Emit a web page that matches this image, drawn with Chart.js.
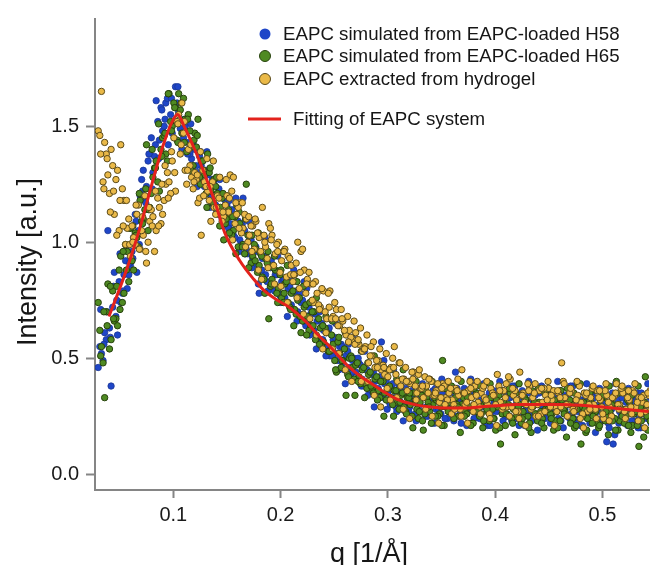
<!DOCTYPE html>
<html>
<head>
<meta charset="utf-8">
<script src="https://cdn.jsdelivr.net/npm/chart.js@4/dist/chart.umd.min.js"></script>
<style>
html,body{margin:0;padding:0;background:#fff;overflow:hidden;}
canvas{display:block;}
</style>
</head>
<body>
<canvas id="c" width="654" height="575"></canvas>
<script>
// ---- data ----
const qGrid = [
0.030,0.033,0.036,0.039,0.042,0.045,0.048,0.051,0.054,0.057,
0.060,0.063,0.066,0.069,0.072,0.075,0.078,0.081,0.084,0.087,
0.090,0.093,0.096,0.099,0.102,0.105,0.108,0.111,0.114,0.117,
0.120,0.123,0.126,0.129,0.132,0.135,0.138,0.141,0.144,0.147,
0.150,0.153,0.156,0.159,0.162,0.165,0.168,0.171,0.174,0.177,
0.180,0.183,0.186,0.189,0.192,0.195,0.198,0.201,0.204,0.207,
0.210,0.213,0.216,0.219,0.222,0.225,0.228,0.231,0.234,0.237,
0.240,0.243,0.246,0.249,0.252,0.255,0.258,0.261,0.264,0.267,
0.270,0.273,0.276,0.279,0.282,0.285,0.288,0.291,0.294,0.297,
0.300,0.303,0.306,0.309,0.312,0.315,0.318,0.321,0.324,0.327,
0.330,0.333,0.336,0.339,0.342,0.345,0.348,0.351,0.354,0.357,
0.360,0.363,0.366,0.369,0.372,0.375,0.378,0.381,0.384,0.387,
0.390,0.393,0.396,0.399,0.402,0.405,0.408,0.411,0.414,0.417,
0.420,0.423,0.426,0.429,0.432,0.435,0.438,0.441,0.444,0.447,
0.450,0.453,0.456,0.459,0.462,0.465,0.468,0.471,0.474,0.477,
0.480,0.483,0.486,0.489,0.492,0.495,0.498,0.501,0.504,0.507,
0.510,0.513,0.516,0.519,0.522,0.525,0.528,0.531,0.534,0.537,
0.540,0.543];

const qGrid2 = [
0.0315,0.0345,0.0375,0.0405,0.0435,0.0465,0.0495,0.0525,0.0555,0.0585,
0.0615,0.0645,0.0675,0.0705,0.0735,0.0765,0.0795,0.0825,0.0855,0.0885,
0.0915,0.0945,0.0975,0.1005,0.1035,0.1065,0.1095,0.1125,0.1155,0.1185,
0.1215,0.1245,0.1275,0.1305,0.1335,0.1365,0.1395,0.1425,0.1455,0.1485,
0.1515,0.1545,0.1575,0.1605,0.1635,0.1665,0.1695,0.1725,0.1755,0.1785,
0.1815,0.1845,0.1875,0.1905,0.1935,0.1965,0.1995,0.2025,0.2055,0.2085,
0.2115,0.2145,0.2175,0.2205,0.2235,0.2265,0.2295,0.2325,0.2355,0.2385,
0.2415,0.2445,0.2475,0.2505,0.2535,0.2565,0.2595,0.2625,0.2655,0.2685,
0.2715,0.2745,0.2775,0.2805,0.2835,0.2865,0.2895,0.2925,0.2955,0.2985,
0.3015,0.3045,0.3075,0.3105,0.3135,0.3165,0.3195,0.3225,0.3255,0.3285,
0.3315,0.3345,0.3375,0.3405,0.3435,0.3465,0.3495,0.3525,0.3555,0.3585,
0.3615,0.3645,0.3675,0.3705,0.3735,0.3765,0.3795,0.3825,0.3855,0.3885,
0.3915,0.3945,0.3975,0.4005,0.4035,0.4065,0.4095,0.4125,0.4155,0.4185,
0.4215,0.4245,0.4275,0.4305,0.4335,0.4365,0.4395,0.4425,0.4455,0.4485,
0.4515,0.4545,0.4575,0.4605,0.4635,0.4665,0.4695,0.4725,0.4755,0.4785,
0.4815,0.4845,0.4875,0.4905,0.4935,0.4965,0.4995,0.5025,0.5055,0.5085,
0.5115,0.5145,0.5175,0.5205,0.5235,0.5265,0.5295,0.5325,0.5355,0.5385,
0.5415,0.5445];

const qGrid3 = [
0.0323,0.0353,0.0383,0.0413,0.0443,0.0473,0.0503,0.0533,0.0563,0.0593,
0.0623,0.0653,0.0683,0.0713,0.0743,0.0773,0.0803,0.0833,0.0863,0.0893,
0.0923,0.0953,0.0983,0.1013,0.1043,0.1073,0.1103,0.1133,0.1163,0.1193,
0.1223,0.1253,0.1283,0.1313,0.1343,0.1373,0.1403,0.1433,0.1463,0.1493,
0.1523,0.1553,0.1583,0.1613,0.1643,0.1673,0.1703,0.1733,0.1763,0.1793,
0.1823,0.1853,0.1883,0.1913,0.1943,0.1973,0.2003,0.2033,0.2063,0.2093,
0.2123,0.2153,0.2183,0.2213,0.2243,0.2273,0.2303,0.2333,0.2363,0.2393,
0.2423,0.2453,0.2483,0.2513,0.2543,0.2573,0.2603,0.2633,0.2663,0.2693,
0.2723,0.2753,0.2783,0.2813,0.2843,0.2873,0.2903,0.2933,0.2963,0.2993,
0.3023,0.3053,0.3083,0.3113,0.3143,0.3173,0.3203,0.3233,0.3263,0.3293,
0.3323,0.3353,0.3383,0.3413,0.3443,0.3473,0.3503,0.3533,0.3563,0.3593,
0.3623,0.3653,0.3683,0.3713,0.3743,0.3773,0.3803,0.3833,0.3863,0.3893,
0.3923,0.3953,0.3983,0.4013,0.4043,0.4073,0.4103,0.4133,0.4163,0.4193,
0.4223,0.4253,0.4283,0.4313,0.4343,0.4373,0.4403,0.4433,0.4463,0.4493,
0.4523,0.4553,0.4583,0.4613,0.4643,0.4673,0.4703,0.4733,0.4763,0.4793,
0.4823,0.4853,0.4883,0.4913,0.4943,0.4973,0.5003,0.5033,0.5063,0.5093,
0.5123,0.5153,0.5183,0.5213,0.5243,0.5273,0.5303,0.5333,0.5363,0.5393,
0.5423,0.5453];

// EAPC simulated from EAPC-loaded H58 (three interleaved q sets)
const iH58 = [
0.46,0.52,0.61,1.05,0.38,0.87,0.60,0.74,0.86,0.80,
0.90,1.02,0.87,1.20,1.31,1.24,1.38,1.30,1.61,1.44,
1.48,1.60,1.63,1.47,1.67,1.56,1.40,1.50,1.43,1.36,
1.40,1.30,1.33,1.24,1.29,1.20,1.25,1.14,1.21,1.12,
1.16,1.08,1.03,1.12,1.01,1.19,0.97,1.02,0.93,0.98,
0.78,0.93,0.86,0.90,0.82,0.86,0.78,0.83,0.76,0.80,
0.73,0.78,0.70,0.74,0.83,0.66,0.69,0.62,0.66,0.58,
0.62,0.55,0.51,0.58,0.52,0.55,0.48,0.51,0.46,0.49,
0.44,0.48,0.41,0.45,0.39,0.43,0.40,0.37,0.57,0.39,
0.35,0.38,0.33,0.36,0.31,0.35,0.30,0.34,0.31,0.33,
0.30,0.34,0.29,0.33,0.36,0.28,0.31,0.35,0.29,0.32,
0.30,0.44,0.31,0.27,0.33,0.29,0.35,0.30,0.26,0.32,
0.29,0.21,0.27,0.31,0.36,0.28,0.30,0.25,0.33,0.29,
0.31,0.27,0.34,0.29,0.26,0.32,0.30,0.35,0.28,0.31,
0.27,0.33,0.29,0.24,0.31,0.28,0.34,0.26,0.30,0.27,
0.32,0.28,0.25,0.30,0.33,0.27,0.29,0.31,0.14,0.26,
0.13,0.30,0.27,0.24,0.31,0.28,0.26,0.33,0.25,0.29,
0.27,0.30];
const iH58b = [
0.55,0.49,0.58,0.63,0.72,0.68,0.83,0.78,0.92,0.86,
0.96,1.12,1.05,1.27,1.18,1.35,1.45,1.37,1.52,1.58,
1.50,1.62,1.55,1.51,1.60,1.49,1.45,1.52,1.38,1.42,
1.33,1.37,1.26,1.31,1.22,1.27,1.16,1.23,1.10,1.18,
1.06,1.14,1.02,1.09,0.99,1.05,0.95,1.01,0.90,0.96,
0.88,0.94,0.83,0.89,0.80,0.86,0.77,0.84,0.74,0.81,
0.71,0.79,0.68,0.75,0.64,0.72,0.61,0.69,0.58,0.65,
0.55,0.62,0.52,0.59,0.49,0.56,0.45,0.53,0.43,0.50,
0.41,0.47,0.38,0.45,0.36,0.44,0.34,0.42,0.33,0.40,
0.31,0.39,0.29,0.38,0.28,0.37,0.27,0.36,0.26,0.35,
0.27,0.36,0.25,0.33,0.22,0.38,0.26,0.31,0.24,0.35,
0.23,0.37,0.26,0.32,0.21,0.34,0.28,0.39,0.24,0.30,
0.22,0.35,0.27,0.31,0.20,0.36,0.25,0.33,0.23,0.38,
0.26,0.32,0.21,0.35,0.24,0.30,0.19,0.37,0.25,0.31,
0.22,0.34,0.27,0.36,0.20,0.31,0.24,0.38,0.23,0.29,
0.21,0.33,0.26,0.35,0.18,0.30,0.24,0.36,0.22,0.28,
0.17,0.32,0.25,0.34,0.21,0.29,0.23,0.35,0.20,0.31,
0.24,0.33];
const iH58c = [
0.71,0.56,0.70,0.59,0.81,0.75,0.95,0.79,0.98,0.91,
0.93,1.09,0.99,1.22,1.17,1.38,1.23,1.42,1.36,1.57,
1.53,1.42,1.62,1.52,1.67,1.43,1.53,1.38,1.51,1.30,
1.24,1.39,1.25,1.39,1.15,1.27,1.13,1.27,1.07,1.16,
1.18,1.05,1.19,0.96,1.08,0.95,1.09,0.89,0.98,0.82,
0.88,1.02,0.79,0.92,0.79,0.94,0.74,0.84,0.68,0.85,
0.88,0.66,0.78,0.66,0.80,0.60,0.70,0.54,0.70,0.58,
0.51,0.63,0.51,0.65,0.45,0.55,0.39,0.56,0.44,0.58,
0.50,0.38,0.53,0.34,0.44,0.29,0.46,0.34,0.49,0.28,
0.30,0.45,0.27,0.37,0.23,0.40,0.29,0.44,0.23,0.37,
0.39,0.25,0.33,0.22,0.37,0.28,0.41,0.24,0.35,0.26,
0.25,0.33,0.22,0.37,0.28,0.41,0.24,0.35,0.26,0.39,
0.32,0.21,0.36,0.27,0.40,0.23,0.34,0.25,0.38,0.24,
0.21,0.36,0.27,0.40,0.23,0.34,0.25,0.38,0.24,0.32,
0.36,0.27,0.40,0.23,0.34,0.25,0.38,0.24,0.32,0.21,
0.26,0.39,0.22,0.33,0.24,0.37,0.23,0.31,0.20,0.35,
0.39,0.22,0.33,0.24,0.37,0.23,0.31,0.20,0.35,0.26,
0.39,0.22];

// EAPC simulated from EAPC-loaded H65
const iH65 = [
0.74,0.55,0.33,0.82,0.58,0.66,0.64,0.94,0.78,0.96,
1.06,0.88,1.02,1.18,1.10,1.42,1.15,1.28,1.35,1.22,
1.45,1.38,1.64,1.50,1.58,1.64,1.47,1.53,1.55,1.41,
1.47,1.53,1.35,1.29,1.38,1.22,1.27,1.21,1.15,1.01,
1.20,1.11,1.05,1.16,1.08,0.99,1.25,1.03,0.94,0.97,
0.90,0.85,0.93,0.67,0.84,0.88,0.80,0.76,0.82,0.74,
0.78,0.71,0.75,0.61,0.72,0.68,0.64,0.70,0.59,0.63,
0.57,0.61,0.53,0.56,0.44,0.52,0.49,0.34,0.50,0.46,
0.47,0.42,0.45,0.39,0.43,0.37,0.41,0.36,0.40,0.35,
0.37,0.33,0.36,0.31,0.34,0.29,0.33,0.30,0.35,0.28,
0.31,0.19,0.33,0.27,0.30,0.32,0.26,0.49,0.29,0.31,
0.28,0.33,0.25,0.30,0.27,0.34,0.22,0.29,0.31,0.26,
0.30,0.27,0.33,0.24,0.29,0.13,0.31,0.26,0.35,0.28,
0.25,0.30,0.27,0.32,0.22,0.29,0.26,0.31,0.24,0.28,
0.31,0.26,0.23,0.29,0.32,0.27,0.25,0.30,0.20,0.39,
0.13,0.28,0.24,0.31,0.26,0.22,0.29,0.33,0.25,0.27,
0.30,0.40,0.23,0.28,0.25,0.31,0.21,0.27,0.12,0.29,
0.42,0.26];
const iH65b = [
0.62,0.48,0.70,0.54,0.79,0.67,0.88,0.74,0.99,0.83,
0.92,1.04,0.98,1.09,1.14,1.05,1.21,1.32,1.26,1.40,
1.46,1.35,1.52,1.60,1.44,1.57,1.62,1.39,1.48,1.33,
1.41,1.28,1.35,1.21,1.30,1.17,1.24,1.12,1.19,1.08,
1.14,1.03,1.11,0.98,1.06,0.95,1.03,0.91,0.99,0.87,
0.95,0.84,0.91,0.81,0.89,0.78,0.86,0.74,0.83,0.72,
0.79,0.69,0.76,0.66,0.73,0.62,0.70,0.58,0.67,0.55,
0.63,0.53,0.60,0.49,0.57,0.46,0.54,0.43,0.51,0.41,
0.48,0.39,0.46,0.37,0.44,0.35,0.42,0.33,0.40,0.32,
0.38,0.30,0.36,0.28,0.35,0.27,0.33,0.25,0.32,0.24,
0.34,0.26,0.31,0.22,0.33,0.25,0.29,0.21,0.32,0.27,
0.24,0.30,0.18,0.33,0.26,0.29,0.22,0.35,0.25,0.20,
0.31,0.23,0.28,0.19,0.34,0.26,0.21,0.30,0.24,0.17,
0.29,0.22,0.33,0.25,0.18,0.31,0.23,0.27,0.20,0.34,
0.26,0.19,0.30,0.23,0.28,0.16,0.32,0.24,0.21,0.29,
0.25,0.18,0.31,0.22,0.27,0.20,0.33,0.23,0.17,0.30,
0.24,0.19,0.28,0.22,0.32,0.18,0.26,0.21,0.29,0.16,
0.25,0.23];
const iH65c = [
0.51,0.70,0.64,0.81,0.67,0.81,0.71,0.96,0.88,1.06,
1.07,1.03,1.21,1.08,1.23,1.14,1.40,1.32,1.51,1.37,
1.47,1.64,1.48,1.58,1.43,1.60,1.43,1.53,1.31,1.44,
1.46,1.25,1.31,1.15,1.32,1.17,1.28,1.07,1.21,1.10,
1.04,1.11,0.95,1.13,0.98,1.10,0.89,1.03,0.92,1.04,
0.94,0.78,0.96,0.82,0.94,0.74,0.88,0.78,0.90,0.71,
0.64,0.83,0.68,0.81,0.60,0.74,0.64,0.76,0.56,0.64,
0.68,0.53,0.66,0.45,0.59,0.49,0.61,0.42,0.50,0.34,
0.40,0.53,0.33,0.48,0.38,0.51,0.32,0.40,0.25,0.45,
0.45,0.25,0.41,0.31,0.45,0.26,0.35,0.20,0.40,0.27,
0.23,0.36,0.29,0.40,0.25,0.33,0.21,0.37,0.27,0.38,
0.36,0.29,0.40,0.25,0.33,0.21,0.37,0.27,0.38,0.23,
0.28,0.39,0.24,0.32,0.20,0.36,0.26,0.37,0.22,0.35,
0.39,0.24,0.32,0.20,0.36,0.26,0.37,0.22,0.35,0.28,
0.24,0.32,0.20,0.36,0.26,0.37,0.22,0.35,0.28,0.39,
0.31,0.19,0.35,0.25,0.36,0.21,0.34,0.27,0.38,0.23,
0.19,0.35,0.25,0.36,0.21,0.34,0.27,0.38,0.23,0.31,
0.19,0.35];

// EAPC extracted from hydrogel
const iExtracted = [
1.48,1.65,1.43,1.29,1.40,1.12,1.31,1.42,1.18,1.06,
0.94,1.02,1.12,0.97,1.03,0.91,1.09,1.11,1.05,1.15,
1.12,1.25,1.26,1.35,1.22,1.55,1.60,1.31,1.40,1.28,
1.30,1.17,1.03,1.26,1.22,1.09,1.15,1.20,1.13,1.11,
1.20,1.29,1.28,1.12,1.17,1.06,1.10,1.03,1.07,1.09,
1.02,1.15,0.98,1.08,1.03,0.95,1.00,0.92,0.97,0.94,
0.90,0.86,1.00,0.96,0.88,0.84,0.82,0.74,0.78,0.72,
0.79,0.67,0.79,0.68,0.71,0.64,0.66,0.60,0.62,0.58,
0.61,0.56,0.53,0.55,0.48,0.51,0.46,0.49,0.45,0.43,
0.42,0.46,0.55,0.40,0.38,0.41,0.36,0.39,0.44,0.35,
0.37,0.33,0.38,0.41,0.34,0.36,0.31,0.39,0.33,0.35,
0.32,0.37,0.34,0.45,0.30,0.36,0.33,0.38,0.31,0.35,
0.33,0.30,0.37,0.34,0.43,0.31,0.36,0.29,0.41,0.34,
0.32,0.44,0.35,0.30,0.38,0.33,0.25,0.36,0.31,0.34,
0.37,0.32,0.29,0.35,0.48,0.33,0.30,0.36,0.28,0.34,
0.31,0.35,0.27,0.33,0.30,0.36,0.32,0.24,0.34,0.29,
0.33,0.39,0.30,0.35,0.28,0.32,0.36,0.29,0.33,0.31,
0.27,0.34];
const iExtractedB = [
1.46,1.26,1.38,1.21,1.33,1.27,1.05,1.23,0.99,1.10,
1.07,0.99,1.16,1.05,1.20,1.00,1.14,0.96,1.19,1.08,
1.18,1.30,1.21,1.45,1.52,1.38,1.47,1.25,1.33,1.23,
1.27,1.19,1.31,1.24,1.18,1.26,1.12,1.19,1.09,1.16,
1.13,1.22,1.08,1.15,1.04,1.12,1.00,1.07,0.97,1.04,
0.96,1.03,0.93,1.06,0.90,0.99,0.87,0.96,0.85,0.93,
0.83,0.91,0.80,0.97,0.78,0.87,0.75,0.83,0.73,0.80,
0.70,0.78,0.67,0.74,0.64,0.71,0.62,0.68,0.59,0.66,
0.57,0.63,0.54,0.60,0.51,0.57,0.49,0.54,0.47,0.52,
0.45,0.50,0.43,0.48,0.41,0.46,0.40,0.44,0.38,0.43,
0.37,0.42,0.35,0.40,0.34,0.39,0.33,0.38,0.32,0.37,
0.30,0.36,0.28,0.35,0.31,0.40,0.27,0.34,0.29,0.37,
0.32,0.26,0.35,0.30,0.38,0.28,0.33,0.42,0.29,0.36,
0.27,0.34,0.31,0.39,0.28,0.35,0.30,0.26,0.37,0.32,
0.29,0.36,0.27,0.33,0.40,0.30,0.35,0.28,0.32,0.38,
0.26,0.34,0.30,0.37,0.28,0.33,0.29,0.36,0.31,0.25,
0.34,0.30,0.37,0.27,0.33,0.29,0.35,0.31,0.26,0.34,
0.30,0.36];
const iExtractedC = [
1.38,1.23,1.36,1.13,1.22,1.03,1.18,1.07,1.18,0.99,
1.00,1.16,0.97,1.11,0.96,1.15,1.07,1.22,1.07,1.25,
1.33,1.19,1.39,1.30,1.51,1.42,1.52,1.31,1.42,1.26,
1.29,1.39,1.20,1.36,1.24,1.35,1.15,1.28,1.13,1.27,
1.19,1.01,1.17,1.06,1.17,0.98,1.11,0.96,1.10,0.88,
0.84,1.00,0.89,1.01,0.82,0.96,0.81,0.96,0.74,0.86,
0.86,0.76,0.87,0.69,0.82,0.67,0.82,0.60,0.71,0.54,
0.61,0.72,0.54,0.67,0.52,0.67,0.45,0.57,0.40,0.56,
0.58,0.40,0.54,0.40,0.55,0.34,0.46,0.29,0.46,0.37,
0.32,0.46,0.33,0.48,0.28,0.40,0.24,0.41,0.32,0.45,
0.38,0.28,0.41,0.25,0.35,0.22,0.37,0.30,0.40,0.26,
0.28,0.41,0.25,0.35,0.22,0.37,0.30,0.40,0.26,0.38,
0.40,0.24,0.34,0.21,0.36,0.29,0.39,0.25,0.37,0.27,
0.24,0.34,0.21,0.36,0.29,0.39,0.25,0.37,0.27,0.40,
0.34,0.21,0.36,0.29,0.39,0.25,0.37,0.27,0.40,0.24,
0.20,0.35,0.28,0.38,0.24,0.36,0.26,0.39,0.23,0.33,
0.35,0.28,0.38,0.24,0.36,0.26,0.39,0.23,0.33,0.20,
0.35,0.28];

// Fitting of EAPC system
const qFit = [0.040,0.050,0.060,0.070,0.080,0.090,0.098,0.104,0.110,0.118,0.127,0.139,0.148,0.162,0.175,0.185,0.197,0.208,0.223,0.235,0.247,0.262,0.275,0.285,0.298,0.310,0.325,0.340,0.355,0.370,0.385,0.400,0.420,0.440,0.460,0.480,0.500,0.520,0.543];
const iFit = [0.68,0.80,0.93,1.08,1.25,1.41,1.51,1.55,1.50,1.42,1.32,1.17,1.04,0.92,0.84,0.79,0.75,0.72,0.66,0.60,0.545,0.47,0.42,0.39,0.35,0.32,0.30,0.29,0.285,0.285,0.29,0.295,0.30,0.30,0.30,0.297,0.29,0.28,0.27];

const seriesNames = [
  "EAPC simulated from EAPC-loaded H58",
  "EAPC simulated from EAPC-loaded H65",
  "EAPC extracted from hydrogel",
  "Fitting of EAPC system"
];
const xTitle = "q [1/Å]";
const yTitle = "Intensity [a.u.]";

// ---- build ----
const pts = (xs, ys) => xs.map((x, i) => ({x: x, y: ys[i]}));
const FONT = '"Liberation Sans", Arial, Helvetica, sans-serif';
const AXIS = '#858585';
const COL = {
  blue: {bg:'#1f46c8', bd:'#1c3794'},
  green:{bg:'#4f8a22', bd:'#27420d'},
  yellow:{bg:'#eab948', bd:'#5a4a1a'},
  red:'#e3221c'
};

const overlay = {
  id: 'overlay',
  afterDraw(chart) {
    const c = chart.ctx;
    c.save();
    c.fillStyle = '#161616';
    c.font = '27px ' + FONT;
    c.textAlign = 'center';
    c.textBaseline = 'alphabetic';
    c.fillText(xTitle, 369, 562);
    c.save();
    c.translate(36, 262);
    c.rotate(-Math.PI / 2);
    c.fillText(yTitle, 0, 0);
    c.restore();
    c.font = '18.7px ' + FONT;
    c.textAlign = 'left';
    c.textBaseline = 'middle';
    const rows = [
      {y: 34, s: COL.blue, border: false},
      {y: 56, s: COL.green, border: true},
      {y: 79, s: COL.yellow, border: true}
    ];
    rows.forEach((r, i) => {
      c.beginPath();
      c.arc(265, r.y, 5.5, 0, Math.PI * 2);
      c.fillStyle = r.s.bg;
      c.fill();
      if (r.border) { c.lineWidth = 1; c.strokeStyle = r.s.bd; c.stroke(); }
      c.fillStyle = '#161616';
      c.fillText(seriesNames[i], 283, r.y + 1);
    });
    c.beginPath();
    c.moveTo(248, 119); c.lineTo(281, 119);
    c.lineWidth = 3; c.strokeStyle = COL.red; c.stroke();
    c.fillStyle = '#161616';
    c.fillText(seriesNames[3], 293, 120);
    c.restore();
  }
};

new Chart(document.getElementById('c'), {
  type: 'scatter',
  data: {
    datasets: [
      {label: seriesNames[3], type: 'line', data: pts(qFit, iFit), borderColor: COL.red, borderWidth: 3,
       pointRadius: 0, fill: false, cubicInterpolationMode: 'monotone', order: 0},
      {label: seriesNames[2],
       data: pts(qGrid, iExtracted).concat(pts(qGrid2, iExtractedB), pts(qGrid3, iExtractedC)),
       backgroundColor: COL.yellow.bg, borderColor: COL.yellow.bd, borderWidth: 1, pointRadius: 3.2, order: 1},
      {label: seriesNames[1],
       data: pts(qGrid, iH65).concat(pts(qGrid2, iH65b), pts(qGrid3, iH65c)),
       backgroundColor: COL.green.bg, borderColor: COL.green.bd, borderWidth: 1, pointRadius: 3.2, order: 2},
      {label: seriesNames[0],
       data: pts(qGrid, iH58).concat(pts(qGrid2, iH58b), pts(qGrid3, iH58c)),
       backgroundColor: COL.blue.bg, borderColor: COL.blue.bd, borderWidth: 0.8, pointRadius: 3.2, order: 3}
    ]
  },
  options: {
    responsive: false,
    animation: false,
    layout: {padding: {top: 11, right: 0, left: 0, bottom: 0}},
    plugins: {legend: {display: false}, tooltip: {enabled: false}},
    scales: {
      x: {
        type: 'linear', min: 0.027, max: 0.5434,
        afterFit: s => { s.height = 85; },
        border: {color: AXIS, width: 2},
        grid: {drawOnChartArea: false, drawTicks: true, tickLength: 8, tickWidth: 2, tickColor: AXIS, color: AXIS},
        ticks: {stepSize: 0.1, includeBounds: false, padding: 5, color: '#1a1a1a',
                font: {size: 20, family: FONT}, maxRotation: 0,
                callback: v => v.toFixed(1)}
      },
      y: {
        type: 'linear', min: -0.068, max: 1.962,
        afterFit: s => { s.width = 95; },
        border: {color: AXIS, width: 2},
        grid: {drawOnChartArea: false, drawTicks: true, tickLength: 9, tickWidth: 2, tickColor: AXIS, color: AXIS},
        ticks: {stepSize: 0.5, includeBounds: false, padding: 7, color: '#1a1a1a',
                font: {size: 20, family: FONT},
                callback: v => v.toFixed(1)}
      }
    }
  },
  plugins: [overlay]
});
</script>
</body>
</html>
